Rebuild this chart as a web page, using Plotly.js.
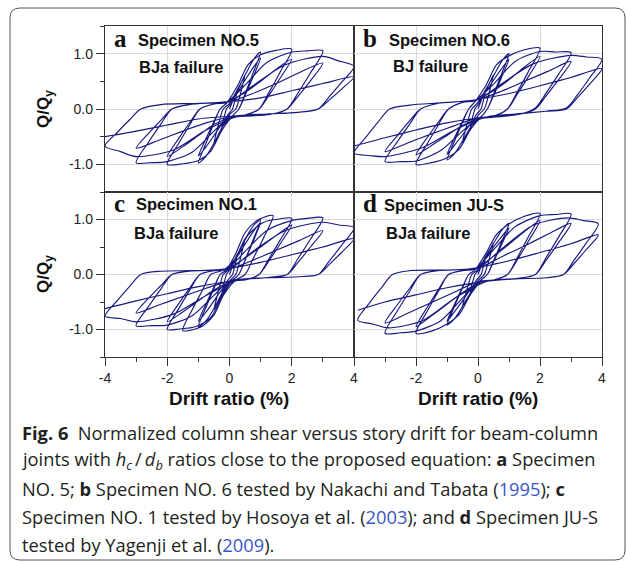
<!DOCTYPE html>
<html>
<head>
<meta charset="utf-8">
<script src="https://cdn.plot.ly/plotly-3.0.1.min.js"></script>
<style>html,body{margin:0;padding:0;background:#fff;}#chart{width:627px;height:562px;}</style>
</head>
<body>
<div id="chart"></div>
<script>
// Drift ratio (%) vs normalized shear Q/Qy (one continuous record per specimen)
const loopNO5 = [
[0,0],[0.1,0.14],[0.25,0.35],
[0.2,0.2],[0.14,0.08],[0.1,0.0],[-0.05,-0.1],[-0.15,-0.2],[-0.25,-0.35],
[-0.2,-0.2],[-0.14,-0.08],[-0.1,0.0],[0.05,0.1],[0.25,0.33],[0.4,0.5],[0.5,0.62],
[0.4,0.38],[0.3,0.16],[0.2,0.0],[0.0,-0.1],[-0.2,-0.3],[-0.38,-0.5],[-0.5,-0.62],
[-0.4,-0.38],[-0.3,-0.16],[-0.2,0.0],[0.0,0.1],[0.3,0.4],[0.6,0.72],[0.8,0.92],[1.0,1.03],
[0.75,0.64],[0.51,0.29],[0.3,0.0],[0.1,-0.12],[-0.2,-0.3],[-0.5,-0.62],[-0.75,-0.85],[-1.0,-0.98],
[-0.75,-0.61],[-0.51,-0.27],[-0.3,0.0],[-0.1,0.1],[0.25,0.3],[0.5,0.52],[0.75,0.74],[1.0,0.92],
[0.75,0.57],[0.51,0.26],[0.3,0.0],[0.1,-0.12],[-0.25,-0.28],[-0.5,-0.48],[-0.75,-0.68],[-1.0,-0.85],
[-0.75,-0.53],[-0.51,-0.24],[-0.3,0.0],[-0.1,0.1],[0.25,0.41],[0.6,0.8],[1.0,0.98],[1.5,1.06],[2.0,1.08],
[1.63,0.67],[1.27,0.3],[0.95,0.0],[0.5,-0.11],[0.1,-0.14],[-0.25,-0.39],[-0.6,-0.76],[-1.0,-0.93],[-1.5,-0.99],[-2.0,-1.0],
[-1.63,-0.62],[-1.27,-0.28],[-0.95,0.0],[-0.5,0.09],[-0.1,0.12],[0.5,0.3],[1.0,0.5],[1.5,0.72],[2.0,0.9],
[1.63,0.56],[1.27,0.25],[0.95,0.0],[0.5,-0.11],[0.1,-0.14],[-0.5,-0.28],[-1.0,-0.48],[-1.5,-0.68],[-2.0,-0.86],
[-1.63,-0.53],[-1.27,-0.24],[-0.95,0.0],[-0.5,0.09],[-0.1,0.12],[0.5,0.43],[1.2,0.84],[2.0,1.03],[2.5,1.05],[3.0,1.05],
[2.6,0.65],[2.2,0.29],[1.85,0.0],[1.3,-0.1],[0.5,-0.13],[0.0,-0.16],[-0.5,-0.4],[-1.2,-0.78],[-2.0,-0.95],[-2.5,-0.97],[-3.0,-0.97],
[-2.6,-0.6],[-2.2,-0.27],[-1.85,0.0],[-1.3,0.08],[-0.5,0.11],[0.0,0.13],[0.75,0.28],[1.5,0.46],[2.25,0.66],[3.0,0.83],
[2.6,0.51],[2.2,0.23],[1.85,0.0],[1.3,-0.1],[0.5,-0.13],[0.0,-0.15],[-0.75,-0.25],[-1.5,-0.4],[-2.25,-0.56],[-3.0,-0.71],
[-2.6,-0.44],[-2.2,-0.2],[-1.85,0.0],[-1.3,0.08],[-0.5,0.11],[0.0,0.13],[0.75,0.42],[1.8,0.8],[3.0,0.95],[3.5,0.87],[4.0,0.77],
[3.6,0.48],[3.2,0.22],[2.85,0.0],[2.2,-0.06],[1.2,-0.09],[0.3,-0.13],[-0.75,-0.38],[-1.8,-0.74],[-3.0,-0.86],[-3.5,-0.77],[-4.0,-0.67],
[-3.6,-0.42],[-3.2,-0.19],[-2.85,0.0],[-2.2,0.08],[-1.2,0.1],[-0.3,0.12],[1.0,0.2],[2.0,0.33],[3.0,0.46],[4.0,0.58],
[3.6,0.36],[3.2,0.16],[2.85,0.0],[2.2,-0.06],[1.2,-0.09],[0.3,-0.12],[-1.0,-0.18],[-2.0,-0.29],[-3.0,-0.4],[-4.0,-0.5]
];
const loopNO6 = [
[0,0],[0.1,0.15],[0.25,0.36],
[0.2,0.21],[0.14,0.08],[0.1,0.0],[-0.05,-0.1],[-0.15,-0.21],[-0.25,-0.35],
[-0.2,-0.2],[-0.14,-0.08],[-0.1,0.0],[0.05,0.12],[0.25,0.34],[0.4,0.5],[0.5,0.62],
[0.4,0.38],[0.3,0.16],[0.2,0.0],[0.0,-0.12],[-0.2,-0.3],[-0.38,-0.47],[-0.5,-0.6],
[-0.4,-0.37],[-0.3,-0.16],[-0.2,0.0],[0.0,0.12],[0.3,0.4],[0.6,0.7],[0.8,0.89],[1.0,1.0],
[0.75,0.62],[0.51,0.28],[0.3,0.0],[0.1,-0.14],[-0.2,-0.3],[-0.5,-0.58],[-0.75,-0.8],[-1.0,-0.92],
[-0.75,-0.57],[-0.51,-0.26],[-0.3,0.0],[-0.1,0.13],[0.25,0.32],[0.5,0.52],[0.75,0.72],[1.0,0.9],
[0.75,0.56],[0.51,0.25],[0.3,0.0],[0.1,-0.14],[-0.25,-0.28],[-0.5,-0.47],[-0.75,-0.65],[-1.0,-0.82],
[-0.75,-0.51],[-0.51,-0.23],[-0.3,0.0],[-0.1,0.13],[0.25,0.42],[0.6,0.8],[1.0,0.96],[1.5,1.07],[2.0,1.1],
[1.63,0.68],[1.27,0.31],[0.95,0.0],[0.5,-0.13],[0.1,-0.16],[-0.25,-0.38],[-0.6,-0.72],[-1.0,-0.88],[-1.5,-0.97],[-2.0,-1.0],
[-1.63,-0.62],[-1.27,-0.28],[-0.95,0.0],[-0.5,0.12],[-0.1,0.15],[0.5,0.33],[1.0,0.53],[1.5,0.76],[2.0,0.95],
[1.63,0.59],[1.27,0.27],[0.95,0.0],[0.5,-0.13],[0.1,-0.16],[-0.5,-0.3],[-1.0,-0.48],[-1.5,-0.66],[-2.0,-0.83],
[-1.63,-0.51],[-1.27,-0.23],[-0.95,0.0],[-0.5,0.12],[-0.1,0.15],[0.5,0.45],[1.2,0.86],[2.0,1.04],[2.5,1.03],[3.0,1.02],
[2.6,0.63],[2.2,0.29],[1.85,0.02],[1.3,-0.1],[0.5,-0.15],[0.0,-0.18],[-0.5,-0.4],[-1.2,-0.75],[-2.0,-0.94],[-2.5,-0.95],[-3.0,-0.95],
[-2.6,-0.59],[-2.2,-0.27],[-1.85,0.0],[-1.3,0.1],[-0.5,0.14],[0.0,0.17],[0.75,0.32],[1.5,0.5],[2.25,0.68],[3.0,0.86],
[2.6,0.53],[2.2,0.24],[1.85,0.0],[1.3,-0.1],[0.5,-0.14],[0.0,-0.16],[-0.75,-0.3],[-1.5,-0.45],[-2.25,-0.61],[-3.0,-0.77],
[-2.6,-0.48],[-2.2,-0.21],[-1.85,0.0],[-1.3,0.1],[-0.5,0.14],[0.0,0.17],[0.75,0.45],[1.8,0.82],[3.0,0.97],[3.5,0.94],[4.0,0.9],
[3.6,0.56],[3.2,0.25],[2.85,0.02],[2.2,-0.04],[1.2,-0.09],[0.3,-0.14],[-0.75,-0.38],[-1.8,-0.7],[-3.0,-0.86],[-3.5,-0.84],[-4.0,-0.8],
[-3.6,-0.5],[-3.2,-0.22],[-2.85,0.0],[-2.2,0.07],[-1.2,0.11],[-0.3,0.15],[1.0,0.28],[2.0,0.42],[3.0,0.57],[4.0,0.73],
[3.6,0.45],[3.2,0.2],[2.85,0.0],[2.2,-0.04],[1.2,-0.09],[0.3,-0.14],[-1.0,-0.25],[-2.0,-0.38],[-3.0,-0.52],[-4.0,-0.67]
];
const loopNO1 = [
[0,0],[0.1,0.16],[0.25,0.38],
[0.2,0.22],[0.14,0.08],[0.1,0.0],[-0.05,-0.1],[-0.15,-0.22],[-0.25,-0.36],
[-0.2,-0.21],[-0.14,-0.08],[-0.1,0.0],[0.05,0.12],[0.25,0.36],[0.4,0.54],[0.5,0.66],
[0.4,0.41],[0.3,0.18],[0.2,0.0],[0.0,-0.12],[-0.2,-0.32],[-0.38,-0.5],[-0.5,-0.64],
[-0.4,-0.4],[-0.3,-0.18],[-0.2,0.0],[0.0,0.1],[0.3,0.42],[0.6,0.74],[0.8,0.91],[1.0,1.0],
[0.75,0.62],[0.51,0.28],[0.3,0.0],[0.1,-0.1],[-0.2,-0.3],[-0.5,-0.62],[-0.75,-0.84],[-1.0,-0.95],
[-0.75,-0.59],[-0.51,-0.27],[-0.3,0.0],[-0.1,0.08],[0.25,0.33],[0.5,0.55],[0.75,0.77],[1.0,0.95],
[0.75,0.59],[0.51,0.27],[0.3,0.0],[0.1,-0.1],[-0.25,-0.28],[-0.5,-0.48],[-0.75,-0.68],[-1.0,-0.85],
[-0.75,-0.53],[-0.51,-0.24],[-0.3,0.0],[-0.1,0.08],[0.2,0.38],[0.5,0.76],[0.85,0.97],[1.15,1.05],[1.4,1.07],
[1.09,0.66],[0.77,0.3],[0.5,0.0],[0.2,-0.1],[-0.2,-0.38],[-0.5,-0.74],[-0.85,-0.93],[-1.15,-1.0],[-1.5,-1.02],
[-1.19,-0.63],[-0.87,-0.29],[-0.6,0.0],[-0.2,0.08],[0.2,0.3],[0.6,0.72],[1.1,0.95],[1.6,1.01],[2.0,1.02],
[1.63,0.63],[1.27,0.29],[0.95,0.0],[0.5,-0.1],[0.1,-0.12],[-0.25,-0.4],[-0.6,-0.78],[-1.1,-0.95],[-1.6,-0.99],[-2.0,-1.0],
[-1.63,-0.62],[-1.27,-0.28],[-0.95,0.0],[-0.5,0.07],[-0.1,0.09],[0.5,0.3],[1.0,0.5],[1.5,0.71],[2.0,0.9],
[1.63,0.56],[1.27,0.25],[0.95,0.0],[0.5,-0.1],[0.1,-0.12],[-0.5,-0.28],[-1.0,-0.48],[-1.5,-0.68],[-2.0,-0.86],
[-1.63,-0.53],[-1.27,-0.24],[-0.95,0.0],[-0.5,0.07],[-0.1,0.09],[0.5,0.42],[1.2,0.8],[2.0,0.98],[2.5,1.02],[3.0,1.03],
[2.6,0.64],[2.2,0.29],[1.85,0.0],[1.3,-0.05],[0.5,-0.08],[0.0,-0.12],[-0.5,-0.38],[-1.2,-0.75],[-2.0,-0.92],[-2.5,-0.93],[-3.0,-0.93],
[-2.6,-0.58],[-2.2,-0.26],[-1.85,0.0],[-1.3,0.06],[-0.5,0.08],[0.0,0.1],[0.75,0.26],[1.5,0.44],[2.25,0.62],[3.0,0.8],
[2.6,0.5],[2.2,0.22],[1.85,0.0],[1.3,-0.05],[0.5,-0.08],[0.0,-0.12],[-0.75,-0.25],[-1.5,-0.4],[-2.25,-0.55],[-3.0,-0.7],
[-2.6,-0.43],[-2.2,-0.2],[-1.85,0.0],[-1.3,0.06],[-0.5,0.08],[0.0,0.1],[0.75,0.42],[1.8,0.8],[3.0,0.95],[3.5,0.9],[4.0,0.85],
[3.6,0.53],[3.2,0.24],[2.85,0.0],[2.2,-0.04],[1.2,-0.06],[0.3,-0.1],[-0.75,-0.38],[-1.8,-0.72],[-3.0,-0.86],[-3.5,-0.8],[-4.0,-0.76],
[-3.6,-0.47],[-3.2,-0.21],[-2.85,0.0],[-2.2,0.06],[-1.2,0.07],[-0.3,0.09],[1.0,0.22],[2.0,0.36],[3.0,0.5],[4.0,0.65],
[3.6,0.4],[3.2,0.18],[2.85,0.0],[2.2,-0.04],[1.2,-0.06],[0.3,-0.1],[-1.0,-0.22],[-2.0,-0.35],[-3.0,-0.48],[-4.0,-0.62]
];
const loopJUS = [
[0,0],[0.1,0.14],[0.25,0.34],
[0.2,0.2],[0.14,0.07],[0.1,0.0],[-0.05,-0.1],[-0.15,-0.2],[-0.25,-0.33],
[-0.2,-0.19],[-0.14,-0.07],[-0.1,0.0],[0.05,0.1],[0.25,0.32],[0.4,0.47],[0.5,0.58],
[0.4,0.36],[0.3,0.16],[0.2,0.0],[0.0,-0.11],[-0.2,-0.3],[-0.38,-0.46],[-0.5,-0.58],
[-0.4,-0.36],[-0.3,-0.16],[-0.2,0.0],[0.0,0.09],[0.3,0.38],[0.6,0.66],[0.8,0.83],[1.0,0.93],
[0.75,0.58],[0.51,0.26],[0.3,0.0],[0.1,-0.1],[-0.2,-0.3],[-0.5,-0.58],[-0.75,-0.8],[-1.0,-0.92],
[-0.75,-0.57],[-0.51,-0.26],[-0.3,0.0],[-0.1,0.08],[0.25,0.3],[0.5,0.5],[0.75,0.68],[1.0,0.85],
[0.75,0.53],[0.51,0.24],[0.3,0.0],[0.1,-0.1],[-0.25,-0.28],[-0.5,-0.48],[-0.75,-0.67],[-1.0,-0.85],
[-0.75,-0.53],[-0.51,-0.24],[-0.3,0.0],[-0.1,0.08],[0.25,0.38],[0.6,0.73],[1.0,0.92],[1.5,1.06],[2.0,1.11],
[1.63,0.69],[1.27,0.31],[0.95,0.0],[0.5,-0.1],[0.1,-0.13],[-0.25,-0.37],[-0.6,-0.72],[-1.0,-0.9],[-1.5,-1.03],[-2.0,-1.07],
[-1.63,-0.66],[-1.27,-0.3],[-0.95,0.0],[-0.5,0.07],[-0.1,0.1],[0.5,0.33],[1.0,0.55],[1.5,0.78],[2.0,0.98],
[1.63,0.61],[1.27,0.27],[0.95,0.0],[0.5,-0.1],[0.1,-0.13],[-0.5,-0.33],[-1.0,-0.54],[-1.5,-0.75],[-2.0,-0.95],
[-1.63,-0.59],[-1.27,-0.27],[-0.95,0.0],[-0.5,0.07],[-0.1,0.1],[0.5,0.45],[1.2,0.87],[2.0,1.07],[2.5,1.09],[3.0,1.1],
[2.6,0.68],[2.2,0.31],[1.85,0.0],[1.3,-0.07],[0.5,-0.1],[0.0,-0.14],[-0.5,-0.43],[-1.2,-0.84],[-2.0,-1.03],[-2.5,-1.06],[-3.0,-1.07],
[-2.6,-0.66],[-2.2,-0.3],[-1.85,0.0],[-1.3,0.07],[-0.5,0.09],[0.0,0.11],[0.75,0.32],[1.5,0.52],[2.25,0.73],[3.0,0.93],
[2.6,0.58],[2.2,0.26],[1.85,0.0],[1.3,-0.07],[0.5,-0.1],[0.0,-0.13],[-0.75,-0.32],[-1.5,-0.51],[-2.25,-0.7],[-3.0,-0.88],
[-2.6,-0.55],[-2.2,-0.25],[-1.85,0.0],[-1.3,0.07],[-0.5,0.09],[0.0,0.11],[0.75,0.46],[1.8,0.9],[2.9,1.03],[3.4,0.98],[3.88,0.92],
[3.49,0.57],[3.1,0.26],[2.76,0.0],[2.2,-0.06],[1.2,-0.08],[0.3,-0.12],[-0.75,-0.43],[-1.8,-0.84],[-2.9,-0.97],[-3.4,-0.9],[-3.88,-0.83],
[-3.49,-0.51],[-3.1,-0.23],[-2.76,0.0],[-2.2,0.07],[-1.2,0.08],[-0.3,0.1],[1.0,0.25],[2.0,0.4],[3.0,0.56],[3.88,0.72],
[3.49,0.45],[3.1,0.2],[2.76,0.0],[2.2,-0.06],[1.2,-0.08],[0.3,-0.12],[-1.0,-0.24],[-2.0,-0.37],[-3.0,-0.5],[-3.88,-0.65]
];

const panelLetters = ['a', 'b', 'c', 'd'];
const panelNames = ['Specimen NO.5', 'Specimen NO.6', 'Specimen NO.1', 'Specimen JU-S'];
const failureModes = ['BJa failure', 'BJ failure', 'BJa failure', 'BJa failure'];
const xTickValsLeft = [-4, -2, 0, 2, 4];
const xTickTextLeft = ['-4', '-2', '0', '2', '4'];
const xTickValsRight = [-2, 0, 2, 4];
const xTickTextRight = ['-2', '0', '2', '4'];
const xMinorTicks = [-3, -1, 1, 3];
const yTickVals = [-1, 0, 1];
const yTickText = ['-1.0', '0.0', '1.0'];
const yMinorTicks = [-1.5, -0.5, 0.5, 1.5];
const xTitle = 'Drift ratio (%)';
const yTitle = 'Q/Q<sub>y</sub>';
const captionLines = [
  '<b>Fig. 6</b>\u00a0\u00a0Normalized column shear versus story drift for beam-column',
  'joints with <i>h<sub>c</sub></i>\u2009/\u2009<i>d<sub>b</sub></i> ratios close to the proposed equation: <b>a</b> Specimen',
  'NO. 5; <b>b</b> Specimen NO. 6 tested by Nakachi and Tabata (<span style="color:#3a55c8">1995</span>); <b>c</b>',
  'Specimen NO. 1 tested by Hosoya et al. (<span style="color:#3a55c8">2003</span>); and <b>d</b> Specimen JU-S',
  'tested by Yagenji et al. (<span style="color:#3a55c8">2009</span>).'
];

const W = 627, H = 562;
const px = v => v / W;
const py = v => 1 - v / H;

const loops = [loopNO5, loopNO6, loopNO1, loopJUS];
const lineColor = '#18197e';
const traces = loops.map((L, i) => ({
  type: 'scatter', mode: 'lines',
  x: L.map(p => p[0]), y: L.map(p => p[1]),
  xaxis: 'x' + (i === 0 ? '' : i + 1), yaxis: 'y' + (i === 0 ? '' : i + 1),
  line: {color: lineColor, width: 1.15, shape: 'spline', smoothing: 0.8},
  hoverinfo: 'skip', showlegend: false
}));

// panel frames (pixels)
const colX = [[105, 354], [354, 602]];
const rowY = [[26, 192], [192, 357]];
const axColor = '#333333';
const gridColor = '#d9d9d9';
const tickFont = {family: 'Liberation Sans, Arial, sans-serif', size: 14, color: '#222'};

const layout = {
  width: W, height: H, margin: {l: 0, r: 0, t: 0, b: 0},
  paper_bgcolor: '#fff', plot_bgcolor: '#fff', showlegend: false,
  annotations: [], shapes: []
};
for (let i = 0; i < 4; i++) {
  const col = i % 2, row = Math.floor(i / 2);
  const s = i === 0 ? '' : String(i + 1);
  const bottom = row === 1, left = col === 0;
  layout['xaxis' + s] = {
    domain: [px(colX[col][0]), px(colX[col][1])], anchor: 'y' + s,
    range: [-4, 4], tickmode: 'array', tickvals: left ? xTickValsLeft : xTickValsRight,
    ticktext: left ? xTickTextLeft : xTickTextRight,
    showticklabels: bottom, ticks: bottom ? 'outside' : '', ticklen: 8, tickwidth: 1, tickcolor: axColor,
    minor: bottom ? {tickmode: 'array', tickvals: xMinorTicks, ticks: 'outside', ticklen: 4, tickwidth: 1, tickcolor: axColor, showgrid: false} : {ticks: '', showgrid: false},
    showline: true, mirror: true, linecolor: axColor, linewidth: 1.2,
    showgrid: true, gridcolor: gridColor, gridwidth: 1, zeroline: false,
    tickfont: tickFont, fixedrange: true
  };
  layout['yaxis' + s] = {
    domain: [py(rowY[row][1]), py(rowY[row][0])], anchor: 'x' + s,
    range: [-1.5, 1.5], tickmode: 'array', tickvals: yTickVals, ticktext: yTickText,
    showticklabels: left, ticks: left ? 'outside' : '', ticklen: 8, tickwidth: 1, tickcolor: axColor,
    minor: left ? {tickmode: 'array', tickvals: yMinorTicks, ticks: 'outside', ticklen: 4, tickwidth: 1, tickcolor: axColor, showgrid: false} : {ticks: '', showgrid: false},
    showline: true, mirror: true, linecolor: axColor, linewidth: 1.2,
    showgrid: true, gridcolor: gridColor, gridwidth: 1, zeroline: false,
    tickfont: tickFont, fixedrange: true
  };
}

// panel labels
const letterPos = [[112, 38], [361, 38], [112, 204], [361, 204]];
const namePos = [[136, 40], [387, 40], [134, 204], [382, 205]];
const modePos = [[137, 67], [391, 66], [132, 233], [384, 233]];
for (let i = 0; i < 4; i++) {
  layout.annotations.push({xref: 'paper', yref: 'paper', x: px(letterPos[i][0]), y: py(letterPos[i][1]),
    xanchor: 'left', yanchor: 'middle', showarrow: false, text: '<b>' + panelLetters[i] + '</b>',
    font: {family: 'Liberation Serif, Times New Roman, serif', size: 25, color: '#111'}});
  layout.annotations.push({xref: 'paper', yref: 'paper', x: px(namePos[i][0]), y: py(namePos[i][1]),
    xanchor: 'left', yanchor: 'middle', showarrow: false, text: '<b>' + panelNames[i] + '</b>',
    font: {family: 'Liberation Sans, Arial, sans-serif', size: 16.5, color: '#111'}});
  layout.annotations.push({xref: 'paper', yref: 'paper', x: px(modePos[i][0]), y: py(modePos[i][1]),
    xanchor: 'left', yanchor: 'middle', showarrow: false, text: '<b>' + failureModes[i] + '</b>',
    font: {family: 'Liberation Sans, Arial, sans-serif', size: 16.5, color: '#111'}});
}
// axis titles
[[229, 398], [478, 398]].forEach(p => layout.annotations.push({xref: 'paper', yref: 'paper', x: px(p[0]), y: py(p[1]),
  xanchor: 'center', yanchor: 'middle', showarrow: false, text: '<b>' + xTitle + '</b>',
  font: {family: 'Liberation Sans, Arial, sans-serif', size: 19, color: '#111'}}));
[[45, 109], [45, 274]].forEach(p => layout.annotations.push({xref: 'paper', yref: 'paper', x: px(p[0]), y: py(p[1]),
  xanchor: 'center', yanchor: 'middle', showarrow: false, textangle: -90, text: '<b>' + yTitle + '</b>',
  font: {family: 'Liberation Sans, Arial, sans-serif', size: 17, color: '#111'}}));
// caption
const capY = [432, 460, 488, 516, 544];
captionLines.forEach((t, k) => layout.annotations.push({xref: 'paper', yref: 'paper', x: px(20), y: py(capY[k]),
  xanchor: 'left', yanchor: 'middle', showarrow: false, text: t, align: 'left',
  font: {family: 'Open Sans, Noto Sans, sans-serif', size: 18.3, color: '#231f20'}}));

// rounded outer frame
const x0 = px(10), x1 = px(625), yt = py(8), yb = py(560), rx = 10 / W, ry = 10 / H;
layout.shapes.push({type: 'path', xref: 'paper', yref: 'paper', line: {color: '#555', width: 1},
  path: `M ${x0 + rx} ${yt} L ${x1 - rx} ${yt} Q ${x1} ${yt} ${x1} ${yt - ry} L ${x1} ${yb + ry} Q ${x1} ${yb} ${x1 - rx} ${yb} L ${x0 + rx} ${yb} Q ${x0} ${yb} ${x0} ${yb + ry} L ${x0} ${yt - ry} Q ${x0} ${yt} ${x0 + rx} ${yt} Z`});

Plotly.newPlot('chart', traces, layout, {staticPlot: true, displayModeBar: false});
</script>
</body>
</html>
